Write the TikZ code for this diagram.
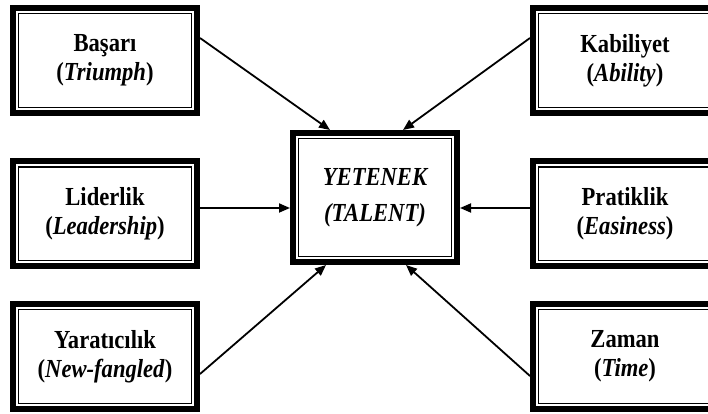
\documentclass[tikz,border=0pt]{standalone}
\usepackage{fontspec}
\setmainfont{Liberation Serif}[FakeStretch=0.87]
\usetikzlibrary{arrows.meta}

\begin{document}
\begin{tikzpicture}[x=1pt,y=1pt,
    tbox/.style={draw,line width=6pt,minimum width=184pt,minimum height=105pt,
      align=center,font=\fontsize{26}{29}\selectfont\bfseries,
      path picture={\draw[line width=1.4pt]
        ([shift={(5.7pt,-5.7pt)}]path picture bounding box.north west) rectangle
        ([shift={(-5.7pt,5.7pt)}]path picture bounding box.south east);}},
    arr/.style={line width=1.8pt,-{Triangle[length=11pt,width=9pt]}}]
        \useasboundingbox (0,0) rectangle (708,414);
        % left column
        \node[tbox] (basari) at (105,353.5) {Başarı\\(\textit{Triumph})};
        \node[tbox] (liderlik) at (105,200) {Liderlik\\(\textit{Leadership})};
        \node[tbox] (yaraticilik) at (105,57.5) {Yaratıcılık\\(\textit{New-fangled})};
        % right column
        \node[tbox] (kabiliyet) at (625,353.5) {Kabiliyet\\(\textit{Ability})};
        \node[tbox] (pratiklik) at (625,200) {Pratiklik\\(\textit{Easiness})};
        \node[tbox] (zaman) at (625,57.5) {Zaman\\(\textit{Time})};
        % centre
        \node[tbox,minimum width=164pt,minimum height=129pt,
          font=\fontsize{26}{36}\selectfont\bfseries\itshape] (yetenek) at (375,216.5) {YETENEK\\(TALENT)};
        % arrows into the centre
        \draw[arr] ([yshift=22.5pt]basari.east) -- ([xshift=-45pt]yetenek.north);
        \draw[arr] ([yshift=22.5pt]kabiliyet.west) -- ([xshift=28pt]yetenek.north);
        \draw[arr] ([yshift=6pt]liderlik.east) -- ([yshift=6pt]liderlik.east -| yetenek.west);
        \draw[arr] ([yshift=6pt]pratiklik.west) -- ([yshift=6pt]pratiklik.west -| yetenek.east);
        \draw[arr] ([yshift=-17.5pt]yaraticilik.east) -- ([xshift=-49pt]yetenek.south);
        \draw[arr] ([yshift=-19.5pt]zaman.west) -- ([xshift=31pt]yetenek.south);
      \end{tikzpicture}
\end{document}
